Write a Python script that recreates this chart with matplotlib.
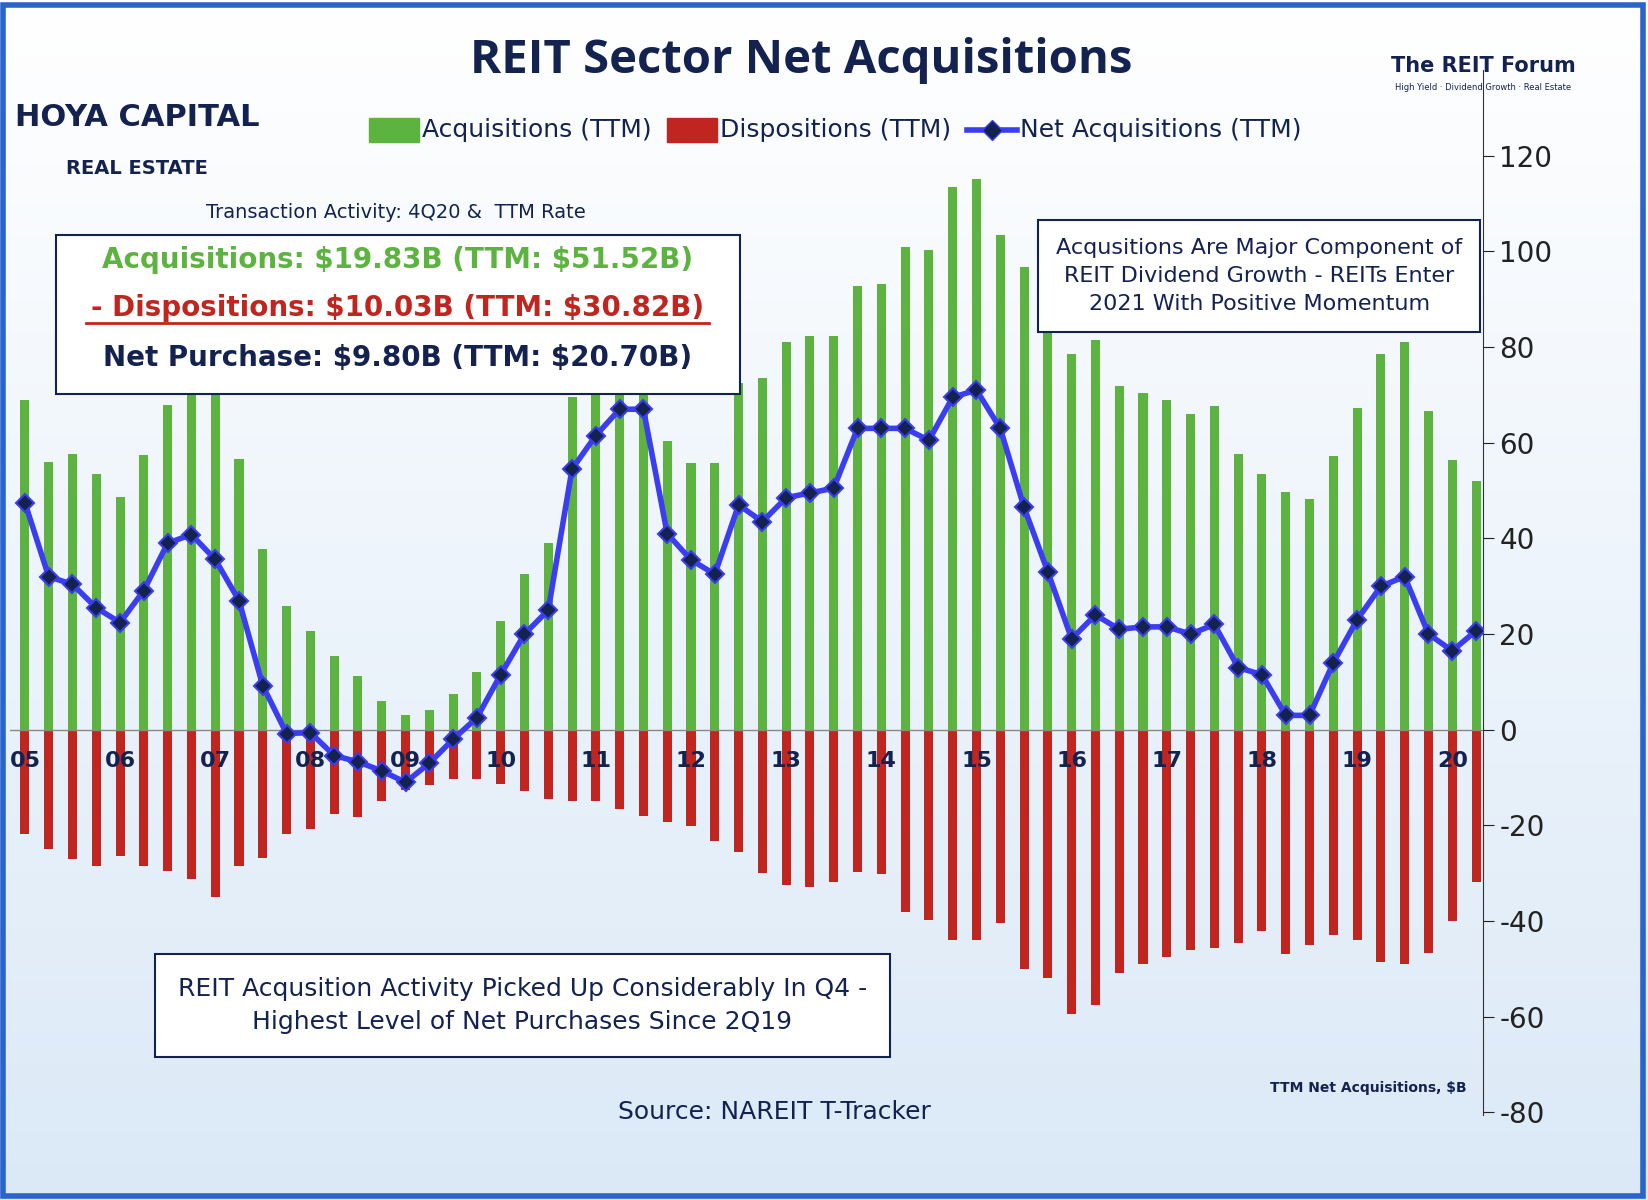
import numpy as np
import matplotlib.pyplot as plt
from matplotlib.patches import Rectangle

plt.rcParams['axes.unicode_minus'] = False

years = ['05','06','07','08','09','10','11','12','13','14','15','16','17','18','19','20']

acquisitions = [69, 56, 57.6, 53.4, 48.6, 57.4, 67.9, 72, 71, 56.5, 37.7, 25.8, 20.7, 15.5, 11.3, 6,
                3.1, 4.2, 7.5, 12, 22.8, 32.5, 39, 69.5, 73.5, 73.5, 73.5, 60.3, 55.7, 55.7, 72.5, 73.5,
                81, 82.3, 82.3, 92.8, 93.2, 101, 100.3, 113.5, 115.2, 103.5, 96.8, 85.2, 78.5, 81.5, 71.8, 70.4,
                69, 66, 67.6, 57.6, 53.4, 49.8, 48.2, 57.2, 67.2, 78.5, 81, 66.6, 56.3, 51.9]
dispositions = [-21.8, -25, -27, -28.5, -26.4, -28.5, -29.5, -31.2, -35, -28.5, -26.8, -21.8, -20.7, -17.6, -18.2, -14.9,
                -12.5, -11.5, -10.3, -10.3, -11.3, -12.8, -14.4, -15, -15, -16.5, -18, -19.3, -20.2, -23.2, -25.5, -30,
                -32.5, -32.8, -31.8, -29.8, -30.2, -38, -39.8, -44, -44, -40.5, -50, -52, -59.5, -57.5, -50.8, -49,
                -47.5, -46, -45.6, -44.6, -42, -46.8, -45, -43, -44, -48.5, -49, -46.6, -40, -31.8]
net = [47.5, 32, 30.4, 25.5, 22.4, 29.1, 39, 40.8, 35.6, 27, 9.2, -0.8, -0.6, -5.4, -6.7, -8.6,
       -11, -7, -2, 2.5, 11.5, 20, 25, 54.5, 61.5, 67, 67, 41, 35.5, 32.5, 47, 43.5,
       48.5, 49.5, 50.5, 63, 63, 63, 60.5, 69.5, 71, 63, 46.5, 33, 19, 24, 21, 21.5,
       21.5, 20, 22, 13, 11.5, 3, 3, 14, 23, 30, 32, 20, 16.5, 20.7]

navy = '#14224f'
green = '#5cb340'
red = '#c0261f'
cond = 'Open Sans'

fig = plt.figure(figsize=(16.48, 12), dpi=100)
# background gradient
bg = fig.add_axes([0, 0, 1, 1], zorder=-10)
grad = np.linspace(0, 1, 256).reshape(-1, 1)
bg.imshow(grad, aspect='auto', cmap=plt.matplotlib.colors.LinearSegmentedColormap.from_list('b', ['#ffffff', '#dbe9f7']),
          extent=[0, 1, 0, 1], origin='upper')
bg.add_patch(Rectangle((0.002, 0.003), 0.995, 0.993, fill=False, ec='#2a63c9', lw=4, transform=bg.transAxes))
bg.axis('off')

ax = fig.add_axes([0.006, 0.071, 0.894, 0.871])
ax.patch.set_alpha(0)
x = np.arange(len(net))
ax.bar(x, acquisitions, width=0.38, color=green, zorder=2)
ax.bar(x, dispositions, width=0.38, color=red, zorder=2)
ax.plot(x, net, color='#3b3df2', lw=4, marker='D', ms=9, mfc=navy, mec='#3b3df2', mew=1.5, zorder=4)
ax.axhline(0, color='#888888', lw=1, zorder=3)
ax.set_xlim(-0.63, 61.3)
ax.set_ylim(-80.5, 138)
ax.set_xticks([])
ax.yaxis.tick_right()
ax.set_yticks(range(-80, 121, 20))
ax.tick_params(axis='y', labelsize=20, colors='#222222', length=8, direction='out')
for s in ['top', 'left', 'bottom']:
    ax.spines[s].set_visible(False)
ax.spines['right'].set_color('#333333')
for i, yl in enumerate(years):
    ax.text(4 * i, -4.5, yl, ha='center', va='top', fontsize=16, fontweight='bold', color=navy, zorder=5)

fig.text(0.486, 0.95, 'REIT Sector Net Acquisitions', ha='center', va='center', fontsize=34,
         fontweight='bold', color=navy, family=cond)
# legend
fig.patches.append(Rectangle((0.224, 0.882), 0.03, 0.02, color=green, transform=fig.transFigure))
fig.text(0.256, 0.892, 'Acquisitions (TTM)', fontsize=18, va='center', color=navy)
fig.patches.append(Rectangle((0.405, 0.882), 0.03, 0.02, color=red, transform=fig.transFigure))
fig.text(0.437, 0.892, 'Dispositions (TTM)', fontsize=18, va='center', color=navy)
fig.lines.append(plt.Line2D([0.587, 0.617], [0.892, 0.892], color='#3b3df2', lw=4, transform=fig.transFigure))
fig.lines.append(plt.Line2D([0.602], [0.892], marker='D', ms=10, mfc=navy, mec='#3b3df2', ls='none',
                            transform=fig.transFigure))
fig.text(0.619, 0.892, 'Net Acquisitions (TTM)', fontsize=18, va='center', color=navy)

fig.text(0.083, 0.895, 'HOYA CAPITAL', fontsize=22, fontweight='bold', color=navy, ha='center')
fig.text(0.083, 0.855, 'REAL ESTATE', fontsize=14, fontweight='bold', color=navy, ha='center')
fig.text(0.9, 0.94, 'The REIT Forum', fontsize=15, fontweight='bold', color=navy, ha='center')
fig.text(0.9, 0.925, 'High Yield · Dividend Growth · Real Estate', fontsize=6, color=navy, ha='center')

fig.text(0.24, 0.818, 'Transaction Activity: 4Q20 &  TTM Rate', fontsize=14, ha='center', color=navy)
fig.patches.append(Rectangle((0.034, 0.672), 0.415, 0.132, fill=True, fc='white', ec=navy, lw=1.5,
                             transform=fig.transFigure, zorder=3))
fig.text(0.241, 0.777, 'Acquisitions: \\$19.83B (TTM: \\$51.52B)', fontsize=20, fontweight='bold', color=green, ha='center', zorder=4)
fig.text(0.241, 0.737, '- Dispositions: \\$10.03B (TTM: \\$30.82B)', fontsize=20, fontweight='bold', color=red, ha='center', zorder=4)
fig.lines.append(plt.Line2D([0.052, 0.43], [0.731, 0.731], color=red, lw=2, transform=fig.transFigure, zorder=4))
fig.text(0.241, 0.695, 'Net Purchase: \\$9.80B (TTM: \\$20.70B)', fontsize=20, fontweight='bold', color=navy, ha='center', zorder=4)

fig.text(0.764, 0.77, 'Acqusitions Are Major Component of\nREIT Dividend Growth - REITs Enter\n2021 With Positive Momentum',
         fontsize=16, ha='center', va='center', color=navy, linespacing=1.5,
         bbox=dict(boxstyle='square,pad=0.8', fc='white', ec=navy, lw=1.5))
fig.text(0.317, 0.162, 'REIT Acqusition Activity Picked Up Considerably In Q4 -\nHighest Level of Net Purchases Since 2Q19',
         fontsize=18, ha='center', va='center', color=navy, linespacing=1.5,
         bbox=dict(boxstyle='square,pad=0.9', fc='white', ec=navy, lw=1.5))
fig.text(0.47, 0.073, 'Source: NAREIT T-Tracker', fontsize=18, ha='center', va='center', color=navy)
fig.text(0.83, 0.09, 'TTM Net Acquisitions, \\$B', fontsize=10, fontweight='bold', ha='center', color=navy)

fig.savefig('out.png', dpi=100)
